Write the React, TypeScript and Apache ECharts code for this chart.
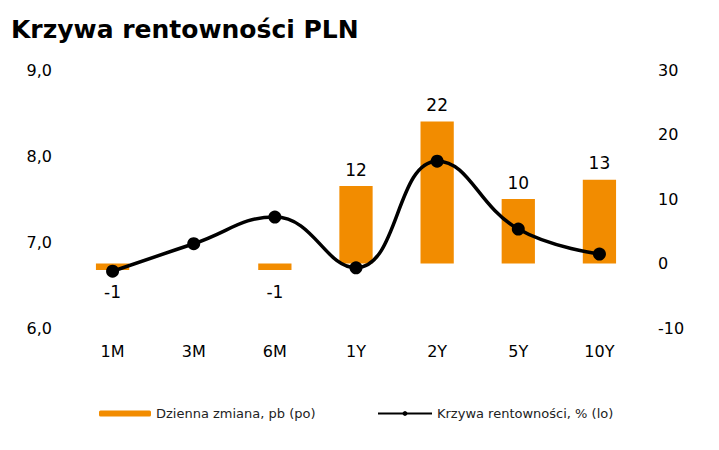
import React, { useEffect, useRef } from "react";
import * as echarts from "echarts";

const categories = ["1M", "3M", "6M", "1Y", "2Y", "5Y", "10Y"];
const dailyChange: (number | null)[] = [-1, null, -1, 12, 22, 10, 13];
const yieldCurve = [6.66, 6.98, 7.29, 6.7, 7.94, 7.15, 6.86];
const leftTicks = [6, 7, 8, 9];
const rightTicks = [-10, 0, 10, 20, 30];

const FONT = "DejaVu Sans";

export default function App() {
  const ref = useRef<HTMLDivElement>(null);
  useEffect(() => {
    if (!ref.current) return;
    const chart = echarts.init(ref.current, null, { renderer: "svg" });
    chart.setOption({
      animation: false,
      backgroundColor: "#ffffff",
      textStyle: { fontFamily: FONT },
      title: {
        text: "Krzywa rentowności PLN",
        left: 6,
        top: 12,
        textStyle: { fontFamily: FONT, fontSize: 25, fontWeight: "bold", color: "#000" },
      },
      grid: { left: 72, right: 79, top: 70, height: 258 },
      legend: [
        {
          data: [{ name: "Dzienna zmiana, pb (po)" }],
          left: 94,
          top: 402,
          itemWidth: 52,
          itemHeight: 6,
          itemGap: 4,
          textStyle: { fontFamily: FONT, fontSize: 13, color: "#222" },
        },
        {
          data: [{ name: "Krzywa rentowności, % (lo)" }],
          left: 372,
          top: 402,
          itemWidth: 54,
          itemHeight: 6,
          textStyle: { fontFamily: FONT, fontSize: 13, color: "#222" },
        },
      ],
      xAxis: {
        type: "category",
        data: categories,
        axisLine: { show: false },
        axisTick: { show: false },
        axisLabel: { fontFamily: FONT, fontSize: 16, color: "#000", margin: 15 },
      },
      yAxis: [
        {
          type: "value",
          min: leftTicks[0],
          max: leftTicks[leftTicks.length - 1],
          interval: 1,
          splitLine: { show: false },
          axisLine: { show: false },
          axisTick: { show: false },
          axisLabel: {
            fontFamily: FONT,
            fontSize: 16,
            color: "#000",
            margin: 20,
            formatter: (v: number) => v.toFixed(1).replace(".", ","),
          },
        },
        {
          type: "value",
          min: rightTicks[0],
          max: rightTicks[rightTicks.length - 1],
          interval: 10,
          splitLine: { show: false },
          axisLine: { show: false },
          axisTick: { show: false },
          axisLabel: { fontFamily: FONT, fontSize: 16, color: "#000", margin: 18 },
        },
      ],
      series: [
        {
          name: "Dzienna zmiana, pb (po)",
          type: "bar",
          yAxisIndex: 1,
          barWidth: "41%",
          data: dailyChange.map((v) =>
            v === null
              ? null
              : {
                  value: v,
                  label: {
                    show: true,
                    position: v < 0 ? "bottom" : "top",
                    distance: v < 0 ? 14 : 8,
                  },
                }
          ),
          itemStyle: { color: "#F28C00" },
          label: { fontFamily: FONT, fontSize: 17, color: "#000" },
          z: 1,
        },
        {
          name: "Krzywa rentowności, % (lo)",
          type: "line",
          yAxisIndex: 0,
          data: yieldCurve,
          smooth: 0.45,
          symbol: "circle",
          symbolSize: 13,
          lineStyle: { color: "#000", width: 3.5 },
          itemStyle: { color: "#000" },
          z: 3,
        },
      ],
    });
    return () => chart.dispose();
  }, []);
  return <div ref={ref} style={{ width: 719, height: 450, margin: -8 }} />;
}
